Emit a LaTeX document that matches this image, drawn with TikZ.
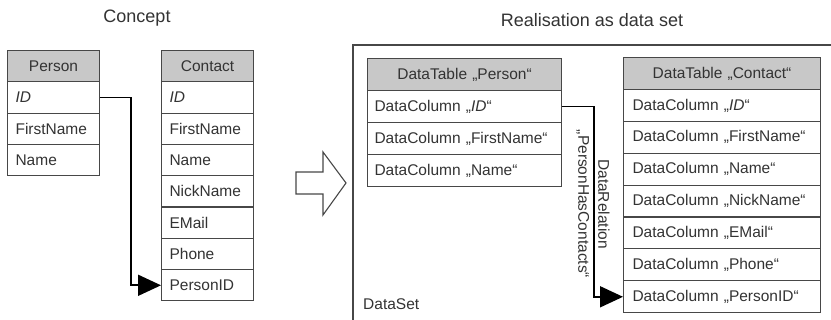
\documentclass[tikz,border=0pt]{standalone}
\usepackage{fontspec}
\setmainfont{Liberation Sans}
\usetikzlibrary{arrows.meta}
\definecolor{hdrgray}{HTML}{C8C8C8}
\definecolor{rulegray}{HTML}{474747}
\definecolor{inkgray}{HTML}{333333}
\tikzset{
  tablecell/.style={draw=rulegray, line width=1.1pt, fill=white, anchor=north west,
    inner xsep=8pt, inner ysep=0pt, align=left, text=inkgray,
    font=\fontsize{15.5}{18}\selectfont},
  tablehead/.style={tablecell, fill=hdrgray, align=center},
  relation/.style={line width=1.8pt, -{Triangle[length=23pt,width=21pt]}},
  caption/.style={text=inkgray, font=\fontsize{18}{21}\selectfont},
  frame/.style={draw=rulegray, line width=1.2pt},
}
\begin{document}
\begin{tikzpicture}[x=1pt,y=-1pt]
\useasboundingbox (0,0) rectangle (831,320);
\fill[white] (0,0) rectangle (831,320);

% titles
\node[caption] (concept) at (137,18) {Concept};
\node[caption] (realisation) at (592,20) {Realisation as data set};

% data set frame, running off the right and bottom edges
\begin{scope}
  \clip (0,0) rectangle (831,320);
  \draw[frame] (353,45) rectangle (880,380);
\end{scope}
\node[text=inkgray, font=\fontsize{15.5}{18}\selectfont, anchor=west, inner sep=0pt]
  (dataset) at (363,304) {DataSet};

% conceptual table Person
\node[tablehead, text width=76pt, minimum height=31.3pt] (p0) at (7,50) {Person};
\foreach [count=\i] \t in {{\textit{ID}},FirstName,Name}
  \node[tablecell, text width=76pt, minimum height=31.3pt] (p\i) at ({7},{50+31.3*\i}) {\t};

% conceptual table Contact
\node[tablehead, text width=76pt, minimum height=31.3pt] (c0) at (161,50) {Contact};
\foreach [count=\i] \t in {{\textit{ID}},FirstName,Name,NickName,EMail,Phone,PersonID}
  \node[tablecell, text width=76pt, minimum height=31.3pt] (c\i) at ({161},{50+31.3*\i}) {\t};

% transformation arrow
\draw[frame, line width=1.1pt, fill=white, line join=miter]
  (296,172) -- (323,172) -- (323,152) -- (346,183) -- (323,215) -- (323,194) -- (296,194) -- cycle;

% DataTable Person
\node[tablehead, text width=180pt, minimum height=32pt, inner xsep=7pt] (dp0) at (367,58) {DataTable „Person“};
\foreach [count=\i] \t in {{DataColumn „\textit{ID}“},{DataColumn „FirstName“},{DataColumn „Name“}}
  \node[tablecell, text width=180pt, minimum height=32pt, inner xsep=7pt] (dp\i) at ({367},{58+32*\i}) {\t};

% DataTable Contact
\node[tablehead, text width=179pt, minimum height=31.9pt, inner xsep=9pt] (dc0) at (623,57) {DataTable „Contact“};
\foreach [count=\i] \t in {{DataColumn „\textit{ID}“},{DataColumn „FirstName“},{DataColumn „Name“},{DataColumn „NickName“},{DataColumn „EMail“},{DataColumn „Phone“},{DataColumn „PersonID“}}
  \node[tablecell, text width=179pt, minimum height=31.9pt, inner xsep=9pt] (dc\i) at ({623},{57+31.9*\i}) {\t};

% relations
\draw[relation] (p1.east) -- ++(31,0) |- (c7.west);
\draw[relation] (dp1.east) -- ++(32,0) |- (dc7.west);
\node[rotate=-90, align=center, text=inkgray, inner sep=0pt,
  font=\fontsize{15.5}{20}\selectfont] (relname) at (593,204)
  {DataRelation\\„PersonHasContacts“};
\end{tikzpicture}
\end{document}
